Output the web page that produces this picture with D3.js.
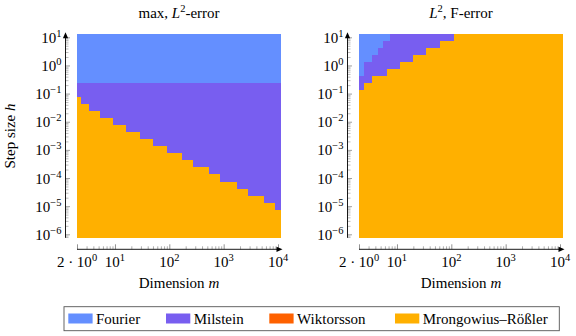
<!DOCTYPE html>
<html><head><meta charset="utf-8">
<script src="https://cdn.jsdelivr.net/npm/d3@7"></script>
<style>
body{margin:0;background:#fff}
svg{display:block}
svg text{font-family:"Liberation Serif","Times New Roman",serif;fill:#000}
</style>
</head><body><svg id="c" width="576" height="336" font-family="Liberation Serif"></svg>
<script>
// ---------- data ----------
const methods = ["Fourier", "Milstein", "Wiktorsson", "Mrongowius\u2013R\u00f6\u00dfler"];
const methodColors = ["#648FFF", "#785EF0", "#FE6100", "#FFB000"];
const panelTitles = ["max", "L2F"];
// exponent of step size h for each row (top to bottom)
const hExp = [1, 0.75, 0.5, 0.25, 0, -0.25, -0.5, -0.75, -1, -1.25, -1.5, -1.75, -2, -2.25, -2.5, -2.75,
              -3, -3.25, -3.5, -3.75, -4, -4.25, -4.5, -4.75, -5, -5.25, -5.5, -5.75, -6];
const mRange = [2, 11350];
// best method per row: [method index, m where it starts]
const leftRows = [
  [[0,2]],[[0,2]],[[0,2]],[[0,2]],[[0,2]],[[0,2]],[[0,2]],
  [[1,2]],[[1,2]],
  [[3,2],[1,2.37]],[[3,2],[1,3.37]],[[3,2],[1,5.3]],[[3,2],[1,9.2]],
  [[3,2],[1,16]],[[3,2],[1,28.9]],[[3,2],[1,50]],[[3,2],[1,90.6]],
  [[3,2],[1,171]],[[3,2],[1,273]],[[3,2],[1,537]],[[3,2],[1,857]],
  [[3,2],[1,1740]],[[3,2],[1,2770]],[[3,2],[1,5525]],[[3,2],[1,8820]],
  [[3,2]],[[3,2]],[[3,2]],[[3,2]]
];
const rightRows = [
  [[0,2],[1,7.35],[3,112]],
  [[0,2],[1,5.46],[3,62]],
  [[0,2],[1,4.42],[3,34.2]],
  [[0,2],[1,3.47],[3,19.5]],
  [[0,2],[1,2.47],[3,11.4]],
  [[0,2],[1,2.47],[3,6.47]],
  [[1,2],[3,3.47]],
  [[1,2],[3,2.47]],
  [[3,2]],[[3,2]],[[3,2]],[[3,2]],[[3,2]],[[3,2]],[[3,2]],[[3,2]],[[3,2]],[[3,2]],[[3,2]],
  [[3,2]],[[3,2]],[[3,2]],[[3,2]],[[3,2]],[[3,2]],[[3,2]],[[3,2]],[[3,2]],[[3,2]]
];
const yTickExps = [-6, -5, -4, -3, -2, -1, 0, 1];
const xTickValues = [2, 10, 100, 1000, 10000];
const xTickLabels = [["2 \u00b7 10", "0"], ["10", "1"], ["10", "2"], ["10", "3"], ["10", "4"]];

// ---------- drawing ----------
const svg = d3.select("#c");
const FS = 15;
const FONT = "'Liberation Serif','Times New Roman',serif";
const yScale = d3.scaleLog().domain([1e-6, 1e1]).range([234.3, 37.3]);
const halfRow = 0.125;
const panelX0 = [77, 359];
const panelRows = [leftRows, rightRows];

function supText(sel, parts) {
  sel.attr("font-family", FONT);
  parts.forEach(([t, k]) => {
    const ts = sel.append("tspan").text(t);
    if (k === "i") ts.attr("font-style", "italic");
    if (k === "s") ts.attr("font-size", FS * 0.7).attr("dy", -6);
    if (k === "r") ts.attr("dy", 6);
  });
}

const yMinor = [];
for (let k = -7; k <= 1; k++) for (let d = 2; d <= 9; d++) {
  const v = d * Math.pow(10, k);
  if (Math.log10(v) >= -6.125 && Math.log10(v) <= 1.125) yMinor.push(v);
}
const xMinor = [];
for (let k = 0; k <= 4; k++) for (let d = 2; d <= 9; d++) {
  const v = d * Math.pow(10, k);
  if (v > 2 && v <= mRange[1]) xMinor.push(v);
}

panelX0.forEach((x0, p) => {
  const x = d3.scaleLog().domain([2, 1e4]).range([x0, x0 + 201]);
  const g = svg.append("g").attr("shape-rendering", "crispEdges");
  const cells = [];
  panelRows[p].forEach((segs, i) => {
    segs.forEach((s, j) => {
      cells.push({e: hExp[i], m: s[0], a: s[1], b: j + 1 < segs.length ? segs[j + 1][1] : mRange[1]});
    });
  });
  g.selectAll("rect.cell").data(cells).join("rect")
    .attr("class", "cell")
    .attr("x", d => x(d.a))
    .attr("width", d => x(d.b) - x(d.a))
    .attr("y", d => yScale(Math.pow(10, d.e + halfRow)))
    .attr("height", d => yScale(Math.pow(10, d.e - halfRow)) - yScale(Math.pow(10, d.e + halfRow)))
    .attr("fill", d => methodColors[d.m]);

  // y axis
  const ax = x0 - 11.5;
  const yTop = yScale(Math.pow(10, 1 + halfRow)), yBot = yScale(Math.pow(10, -6 - halfRow));
  const ya = svg.append("g").attr("transform", `translate(${ax},0)`);
  ya.call(d3.axisLeft(yScale).tickValues(yMinor).tickSize(-3).tickFormat(() => ""));
  ya.selectAll(".tick line").attr("stroke", "#aaa").attr("stroke-width", 0.8);
  const yb = svg.append("g").attr("transform", `translate(${ax},0)`);
  yb.call(d3.axisLeft(yScale).tickValues(yTickExps.map(e => Math.pow(10, e))).tickSize(-4.5).tickFormat(() => ""));
  yb.selectAll(".tick line").attr("stroke", "#888").attr("stroke-width", 0.8);
  svg.selectAll(".domain").remove();
  svg.append("line").attr("x1", ax).attr("x2", ax).attr("y1", yBot).attr("y2", yTop + 2)
    .attr("stroke", "#000").attr("stroke-width", 0.9);
  svg.append("path").attr("d", `M${ax},${yTop - 1.5} L${ax - 2.6},${yTop + 4.5} L${ax + 2.6},${yTop + 4.5} Z`).attr("fill", "#000");
  yTickExps.forEach(e => {
    const t = svg.append("text").attr("x", ax - 4).attr("y", yScale(Math.pow(10, e)) + 5.5)
      .attr("text-anchor", "end").attr("font-size", FS);
    supText(t, [["10", "n"], [e < 0 ? "\u2212" + (-e) : String(e), "s"]]);
  });

  // x axis
  const xy = 249.3;
  const xEnd = x0 + 204;
  const xa = svg.append("g").attr("transform", `translate(0,${xy})`);
  xa.call(d3.axisBottom(x).tickValues(xMinor).tickSize(-3).tickFormat(() => ""));
  xa.selectAll(".tick line").attr("stroke", "#999").attr("stroke-width", 0.8);
  const xb = svg.append("g").attr("transform", `translate(0,${xy})`);
  xb.call(d3.axisBottom(x).tickValues(xTickValues).tickSize(-5).tickFormat(() => ""));
  xb.selectAll(".tick line").attr("stroke", "#777").attr("stroke-width", 0.8);
  svg.selectAll(".domain").remove();
  svg.append("line").attr("x1", x0).attr("x2", xEnd - 2).attr("y1", xy).attr("y2", xy)
    .attr("stroke", "#000").attr("stroke-width", 0.9);
  svg.append("path").attr("d", `M${xEnd + 1.5},${xy} L${xEnd - 4.5},${xy - 2.6} L${xEnd - 4.5},${xy + 2.6} Z`).attr("fill", "#000");
  xTickValues.forEach((v, i) => {
    const t = svg.append("text").attr("x", x(v)).attr("y", 267)
      .attr("text-anchor", "middle").attr("font-size", FS);
    supText(t, [[xTickLabels[i][0], "n"], [xTickLabels[i][1], "s"]]);
  });
  const cx = x0 + 102;
  const xl = svg.append("text").attr("x", cx).attr("y", 287.5).attr("text-anchor", "middle").attr("font-size", FS);
  supText(xl, [["Dimension ", "n"], ["m", "i"]]);

  // title
  const tt = svg.append("text").attr("x", cx).attr("y", 18).attr("text-anchor", "middle").attr("font-size", FS);
  if (panelTitles[p] === "max") supText(tt, [["max, ", "n"], ["L", "i"], ["2", "s"], ["-error", "r"]]);
  else supText(tt, [["L", "i"], ["2", "s"], [", F-error", "r"]]);
});

// y label
const yl = svg.append("text").attr("transform", "translate(14.5,136) rotate(-90)")
  .attr("text-anchor", "middle").attr("font-size", FS);
supText(yl, [["Step size ", "n"], ["h", "i"]]);

// legend
const lg = svg.append("g");
lg.append("rect").attr("x", 64).attr("y", 306.7).attr("width", 495.3).attr("height", 24)
  .attr("fill", "#fff").attr("stroke", "#555").attr("stroke-width", 0.9);
const legX = [68.3, 166, 269.3, 395];
methods.forEach((m, i) => {
  lg.append("rect").attr("x", legX[i]).attr("y", 313.5).attr("width", 24.3).attr("height", 10)
    .attr("fill", methodColors[i]);
  lg.append("text").attr("x", legX[i] + 27.7).attr("y", 323.5).attr("font-size", FS)
    .attr("font-family", FONT).text(m);
});
</script></body></html>
